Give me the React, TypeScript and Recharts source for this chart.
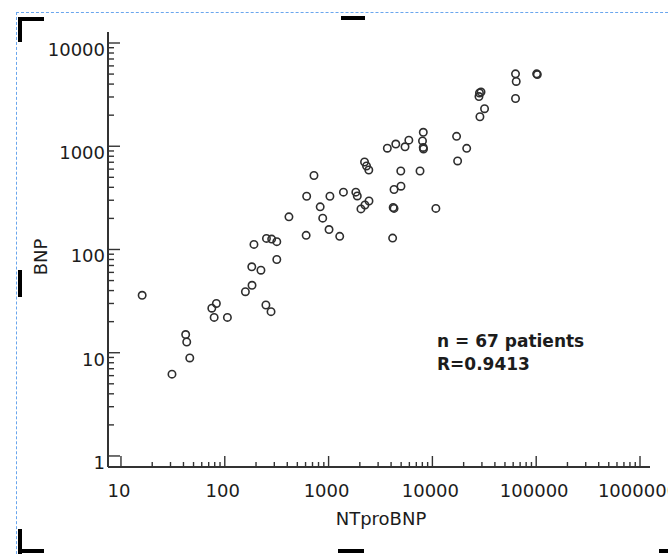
import React from "react";
import { ScatterChart, Scatter, XAxis, YAxis } from "recharts";

// NTproBNP (x) vs BNP (y), one entry per patient
const ntprobnp = [
  16, 31, 42, 43, 46, 75, 83, 79, 106, 158, 183, 249, 279, 182, 223, 191, 252, 283, 317, 317,
  415, 615, 723, 830, 878, 1030, 1010, 608, 1280, 1390, 1830, 1890, 2050, 2240, 2450, 2220, 2320,
  2440, 4960, 7600, 4270, 4980, 4190, 4270, 10800, 4140, 3680, 4440, 5450, 5930, 8170, 8030, 8160,
  8210, 17100, 21400, 17500, 28400, 29400, 28100, 31800, 28700, 63200, 64200, 63200, 101000, 102500,
];
const bnp = [
  36, 6.2, 15, 12.7, 8.9, 27, 30, 22, 22, 39, 45, 29, 25, 68, 63, 112, 128, 126, 119, 80,
  207, 328, 521, 259, 201, 328, 156, 137, 134, 359, 359, 330, 247, 270, 295, 704, 644, 589,
  576, 576, 381, 410, 255, 250, 250, 129, 957, 1050, 988, 1145, 1365, 1124, 973, 941, 1248,
  955, 720, 3280, 3350, 3030, 2310, 1930, 5030, 4240, 2900, 5030, 4950,
];

const xMajorTicks = [10, 100, 1000, 10000, 100000, 1000000];
const yMajorTicks = [1, 10, 100, 1000, 10000];
const xTitle = "NTproBNP";
const yTitle = "BNP";
const notes = ["n = 67 patients", "R=0.9413"];

const FONT = '"DejaVu Sans", Verdana, sans-serif';
const INK = "#333333";
const TEXT = "#1c1c1c";

// majors plus the 2..9 minor ticks inside each decade
function logTicks(majors: number[]) {
  const out: number[] = [];
  majors.forEach((m, i) => {
    out.push(m);
    if (i < majors.length - 1) for (let k = 2; k <= 9; k++) out.push(m * k);
  });
  return out;
}

const data = ntprobnp.map((x, i) => ({ x, y: bnp[i] }));

function XTick({ x, y, payload }: any) {
  const major = xMajorTicks.includes(payload.value);
  return (
    <g>
      <line x1={x} x2={x} y1={y} y2={y - (major ? 11 : 5)} stroke={INK} strokeWidth={1.4} />
      {major && (
        <text x={x - 2} y={y + 30} textAnchor="middle" fontSize={18} fontFamily={FONT} fill={TEXT}>
          {payload.value}
        </text>
      )}
    </g>
  );
}

function YTick({ x, y, payload }: any) {
  const major = yMajorTicks.includes(payload.value);
  return (
    <g>
      <line x1={x} x2={x + (major ? 12 : 6)} y1={y} y2={y} stroke={INK} strokeWidth={1.4} />
      {major && (
        <text x={x - 3} y={y + 13} textAnchor="end" fontSize={18} fontFamily={FONT} fill={TEXT}>
          {payload.value}
        </text>
      )}
    </g>
  );
}

const Ring = ({ cx, cy }: any) => (
  <circle cx={cx} cy={cy} r={3.7} fill="#ffffff" fillOpacity={0} stroke="#2e2e2e" strokeWidth={1.6} />
);

const bar = (left: number, top: number, w: number, h: number) => (
  <div style={{ position: "absolute", left, top, width: w, height: h, background: "#000" }} />
);

export default function App() {
  return (
    <div style={{ position: "absolute", left: 0, top: 0, width: 668, height: 554, background: "#fff", overflow: "hidden" }}>
      {/* frame of the embedded picture */}
      <div style={{ position: "absolute", left: 16, top: 12, width: 700, height: 600, border: "1px dashed #6aa6ee" }} />
      {bar(18, 17, 26, 4)}
      {bar(18, 17, 4, 25)}
      {bar(341, 16, 24, 4)}
      {bar(18, 270, 4, 27)}
      {bar(18, 529, 4, 25)}
      {bar(18, 549, 26, 4)}
      {bar(338, 549, 26, 4)}
      {bar(659, 549, 9, 4)}

      <ScatterChart width={668} height={554} margin={{ top: 32, left: 48, right: 18, bottom: 47 }} style={{ position: "absolute", left: 0, top: 0 }}>
        <XAxis
          type="number"
          dataKey="x"
          scale="log"
          domain={[7.5, 1248000]}
          allowDataOverflow
          ticks={logTicks(xMajorTicks)}
          interval={0}
          height={40}
          tickSize={0}
          tickMargin={0}
          tick={<XTick />}
          axisLine={{ stroke: INK, strokeWidth: 2 }}
          tickLine={false}
        />
        <YAxis
          type="number"
          dataKey="y"
          scale="log"
          domain={[0.782, 12780]}
          allowDataOverflow
          ticks={logTicks(yMajorTicks)}
          interval={0}
          width={60}
          tickSize={0}
          tickMargin={0}
          tick={<YTick />}
          axisLine={{ stroke: INK, strokeWidth: 2 }}
          tickLine={false}
        />
        <Scatter data={data} shape={<Ring />} isAnimationActive={false} />
      </ScatterChart>

      <svg width={668} height={554} style={{ position: "absolute", left: 0, top: 0, pointerEvents: "none" }}>
        <text x={381} y={525} textAnchor="middle" fontSize={18} fontFamily={FONT} fill={TEXT}>
          {xTitle}
        </text>
        <text x={47} y={257} textAnchor="middle" fontSize={18} fontFamily={FONT} fill={TEXT} transform="rotate(-90 47 257)">
          {yTitle}
        </text>
        {notes.map((t, i) => (
          <text key={t} x={437} y={347 + i * 23} fontSize={17} fontWeight="bold" fontFamily={FONT} fill={TEXT}>
            {t}
          </text>
        ))}
      </svg>
    </div>
  );
}
